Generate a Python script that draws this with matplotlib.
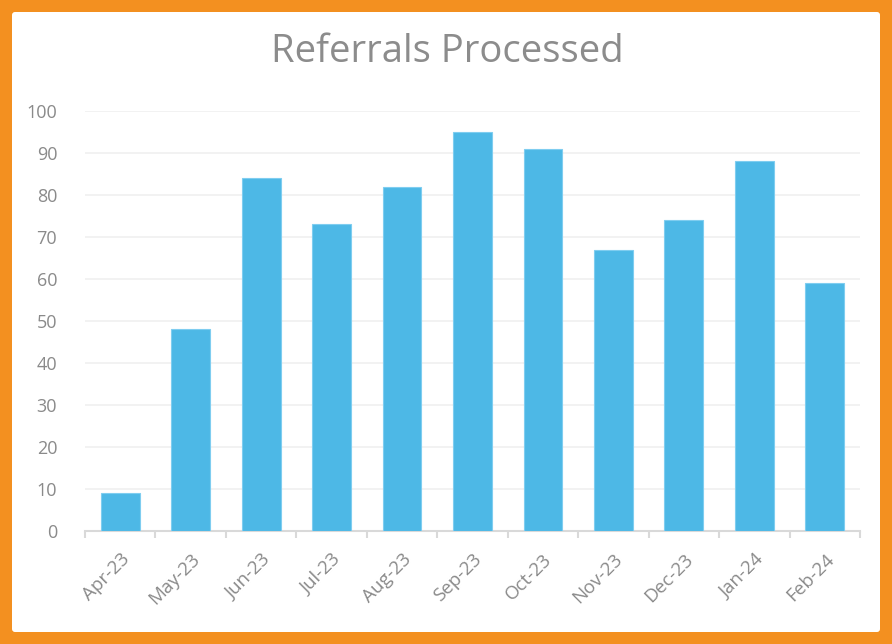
import matplotlib
matplotlib.use("Agg")
import matplotlib.pyplot as plt
from matplotlib.patches import FancyBboxPatch

months = ["Apr-23", "May-23", "Jun-23", "Jul-23", "Aug-23", "Sep-23",
          "Oct-23", "Nov-23", "Dec-23", "Jan-24", "Feb-24"]
referrals = [9, 48, 84, 73, 82, 95, 91, 67, 74, 88, 59]
yticks = list(range(0, 101, 10))

plt.rcParams['font.family'] = ['Open Sans', 'DejaVu Sans']
W, H = 892, 644
fig = plt.figure(figsize=(W / 100, H / 100), dpi=100)
fig.patch.set_facecolor("#F39020")

# orange frame in background axes
bg = fig.add_axes([0, 0, 1, 1], zorder=-5)
bg.set_xlim(0, W)
bg.set_ylim(H, 0)
bg.axis("off")
bg.add_patch(FancyBboxPatch((12, 12), W - 24, H - 24,
                            boxstyle="round,pad=0,rounding_size=3",
                            facecolor="white", edgecolor="none"))

ax = fig.add_axes([85 / W, 1 - 531 / H, (860 - 85) / W, (531 - 111) / H], zorder=2)
ax.set_facecolor("none")
x = list(range(len(months)))
ax.bar(x, referrals, width=0.55, color="#4DB8E6", edgecolor="#7fcdf0",
       linewidth=0.8, zorder=3)
ax.set_xlim(-0.5, len(months) - 0.5)
ax.set_ylim(0, 100)
ax.set_yticks(yticks)
ax.set_yticklabels([str(t) for t in yticks], color="#8a8a8a", fontsize=13)
ax.grid(axis="y", color="#f0f0f0", linewidth=1.2, zorder=0)
ax.set_xticks(x)
ax.set_xticklabels(months, rotation=45, ha="right", rotation_mode="anchor",
                   color="#8a8a8a", fontsize=13.5)
ax.tick_params(axis="x", length=0, pad=14)
ax.tick_params(axis="y", length=0, pad=20)
# category boundary ticks
ax.set_xticks([i - 0.5 for i in range(len(months) + 1)], minor=True)
ax.tick_params(axis="x", which="minor", length=5, color="#d9d9d9", width=1.5)
for s in ["top", "right", "left"]:
    ax.spines[s].set_visible(False)
ax.spines["bottom"].set_color("#d9d9d9")
ax.spines["bottom"].set_linewidth(1.5)

fig.text(447 / W, 1 - 52 / H, "Referrals Processed", ha="center", va="center",
         color="#8c8c8c", fontsize=27.5)

fig.savefig("out.png", dpi=100, facecolor=fig.get_facecolor())
